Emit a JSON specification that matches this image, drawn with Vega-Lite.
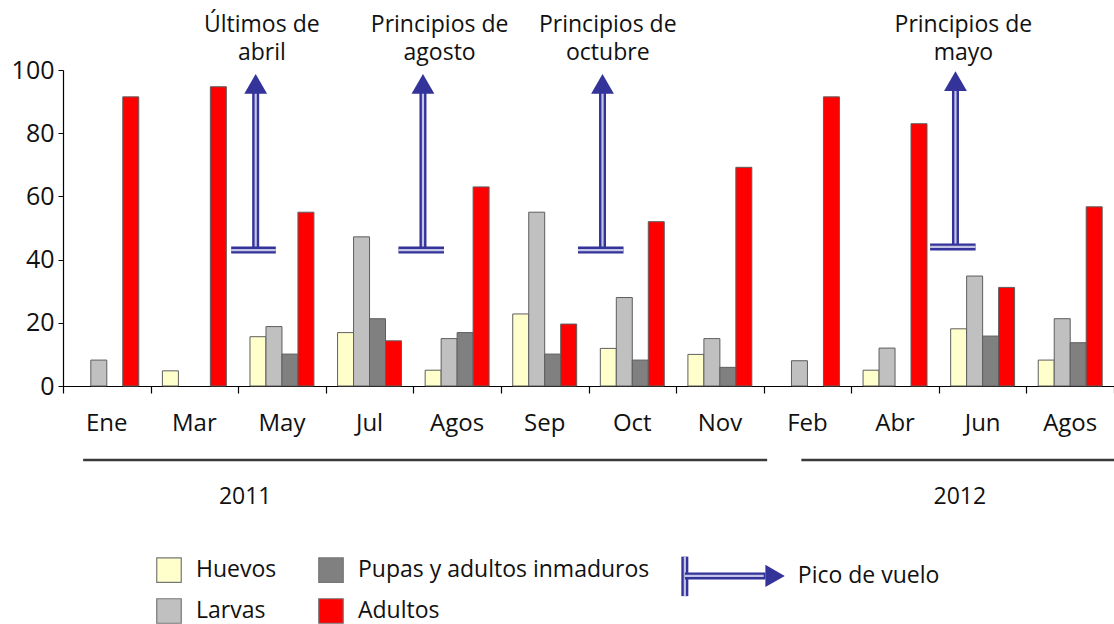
{
  "$schema": "https://vega.github.io/schema/vega-lite/v6.json",
  "width": 1051,
  "height": 316,
  "autosize": {"type": "none"},
  "padding": {"left": 63, "top": 70, "right": 0, "bottom": 238},
  "background": "white",
  "config": {"view": {"stroke": null}, "font": "Open Sans", "text": {"font": "Open Sans"}},
  "datasets": {
    "conteos": [
      {"grupo": "Ene|2011", "fase": "Larvas", "valor": 8.2},
      {"grupo": "Ene|2011", "fase": "Adultos", "valor": 91.5},
      {"grupo": "Mar|2011", "fase": "Huevos", "valor": 4.8},
      {"grupo": "Mar|2011", "fase": "Adultos", "valor": 94.7},
      {"grupo": "May|2011", "fase": "Huevos", "valor": 15.6},
      {"grupo": "May|2011", "fase": "Larvas", "valor": 18.8},
      {"grupo": "May|2011", "fase": "Pupas y adultos inmaduros", "valor": 10.1},
      {"grupo": "May|2011", "fase": "Adultos", "valor": 55},
      {"grupo": "Jul|2011", "fase": "Huevos", "valor": 16.9},
      {"grupo": "Jul|2011", "fase": "Larvas", "valor": 47.2},
      {"grupo": "Jul|2011", "fase": "Pupas y adultos inmaduros", "valor": 21.3},
      {"grupo": "Jul|2011", "fase": "Adultos", "valor": 14.3},
      {"grupo": "Agos|2011", "fase": "Huevos", "valor": 5},
      {"grupo": "Agos|2011", "fase": "Larvas", "valor": 15},
      {"grupo": "Agos|2011", "fase": "Pupas y adultos inmaduros", "valor": 16.9},
      {"grupo": "Agos|2011", "fase": "Adultos", "valor": 63},
      {"grupo": "Sep|2011", "fase": "Huevos", "valor": 22.8},
      {"grupo": "Sep|2011", "fase": "Larvas", "valor": 55},
      {"grupo": "Sep|2011", "fase": "Pupas y adultos inmaduros", "valor": 10.1},
      {"grupo": "Sep|2011", "fase": "Adultos", "valor": 19.6},
      {"grupo": "Oct|2011", "fase": "Huevos", "valor": 11.9},
      {"grupo": "Oct|2011", "fase": "Larvas", "valor": 28},
      {"grupo": "Oct|2011", "fase": "Pupas y adultos inmaduros", "valor": 8.2},
      {"grupo": "Oct|2011", "fase": "Adultos", "valor": 52},
      {"grupo": "Nov|2011", "fase": "Huevos", "valor": 10},
      {"grupo": "Nov|2011", "fase": "Larvas", "valor": 15},
      {"grupo": "Nov|2011", "fase": "Pupas y adultos inmaduros", "valor": 5.9},
      {"grupo": "Nov|2011", "fase": "Adultos", "valor": 69.2},
      {"grupo": "Feb|2012", "fase": "Larvas", "valor": 8},
      {"grupo": "Feb|2012", "fase": "Adultos", "valor": 91.5},
      {"grupo": "Abr|2012", "fase": "Huevos", "valor": 5},
      {"grupo": "Abr|2012", "fase": "Larvas", "valor": 12},
      {"grupo": "Abr|2012", "fase": "Adultos", "valor": 83},
      {"grupo": "Jun|2012", "fase": "Huevos", "valor": 18.1},
      {"grupo": "Jun|2012", "fase": "Larvas", "valor": 34.8},
      {"grupo": "Jun|2012", "fase": "Pupas y adultos inmaduros", "valor": 15.8},
      {"grupo": "Jun|2012", "fase": "Adultos", "valor": 31.2},
      {"grupo": "Agos|2012", "fase": "Huevos", "valor": 8.2},
      {"grupo": "Agos|2012", "fase": "Larvas", "valor": 21.3},
      {"grupo": "Agos|2012", "fase": "Pupas y adultos inmaduros", "valor": 13.7},
      {"grupo": "Agos|2012", "fase": "Adultos", "valor": 56.7}
    ],
    "picos": [
      {"pico": "Últimos de\nabril", "x": 2.2, "xa": 1.92, "xb": 2.43, "desde": 43, "hasta": 93, "punta": 95.6, "lx": 2.27},
      {"pico": "Principios de\nagosto", "x": 4.11, "xa": 3.83, "xb": 4.35, "desde": 43, "hasta": 93, "punta": 95.6, "lx": 4.3},
      {"pico": "Principios de\noctubre", "x": 6.16, "xa": 5.88, "xb": 6.4, "desde": 43, "hasta": 93, "punta": 95.6, "lx": 6.22},
      {"pico": "Principios de\nmayo", "x": 10.19, "xa": 9.9, "xb": 10.42, "desde": 44, "hasta": 94, "punta": 96.5, "lx": 10.28}
    ],
    "anios": [
      {"anio": "2011", "desde": 0.23, "hasta": 8.04, "lx": 2.08},
      {"anio": "2012", "desde": 8.43, "hasta": 12, "lx": 10.24}
    ],
    "cortes": [
      {"x": 0}, {"x": 1}, {"x": 2}, {"x": 3}, {"x": 4}, {"x": 5}, {"x": 6},
      {"x": 7}, {"x": 8}, {"x": 9}, {"x": 10}, {"x": 11}, {"x": 12}
    ],
    "uno": [{"clave": "Pico de vuelo"}]
  },
  "layer": [
    {
      "data": {"name": "conteos"},
      "mark": {"type": "bar", "stroke": "#5e5e5e", "strokeWidth": 1},
      "encoding": {
        "x": {
          "field": "grupo", "type": "nominal", "title": null,
          "sort": ["Ene|2011", "Mar|2011", "May|2011", "Jul|2011", "Agos|2011", "Sep|2011", "Oct|2011", "Nov|2011", "Feb|2012", "Abr|2012", "Jun|2012", "Agos|2012"],
          "scale": {"paddingInner": 0.27, "paddingOuter": 0.135},
          "axis": {
            "orient": "bottom", "ticks": false, "tickSize": 0,
            "labelPadding": 25, "labelAngle": 0, "labelFontSize": 24, "labelColor": "#111",
            "labelFont": "Open Sans", "labelExpr": "split(datum.label, '|')[0]",
            "domainColor": "#000", "domainWidth": 1.2
          }
        },
        "xOffset": {"field": "fase", "type": "nominal", "sort": ["Huevos", "Larvas", "Pupas y adultos inmaduros", "Adultos"]},
        "y": {
          "field": "valor", "type": "quantitative", "title": null,
          "scale": {"domain": [0, 100], "nice": false},
          "axis": {
            "values": [0, 20, 40, 60, 80, 100], "grid": false,
            "tickSize": 5, "tickColor": "#000", "domainColor": "#000", "domainWidth": 1.2,
            "labelFontSize": 25, "labelFont": "Open Sans", "labelColor": "#111", "labelPadding": 4
          }
        },
        "color": {
          "field": "fase", "type": "nominal",
          "scale": {"domain": ["Huevos", "Larvas", "Pupas y adultos inmaduros", "Adultos"], "range": ["#FFFFCC", "#C0C0C0", "#808080", "#FF0000"]},
          "legend": {
            "title": null, "orient": "none", "legendX": 93, "legendY": 487, "columns": 2,
            "symbolType": "square", "symbolSize": 600, "symbolStrokeColor": "#777", "symbolStrokeWidth": 1.2,
            "symbolOpacity": 1, "labelFontSize": 23, "labelFont": "Open Sans", "labelColor": "#111",
            "labelOffset": 14, "columnPadding": 39, "rowPadding": 11, "labelLimit": 400
          }
        }
      }
    },
    {
      "layer": [
        {
          "data": {"name": "cortes"},
          "mark": {"type": "point", "opacity": 0},
          "encoding": {
            "x": {
              "field": "x", "type": "quantitative", "title": null,
              "scale": {"domain": [0, 12], "nice": false, "zero": false},
              "axis": {"orient": "bottom", "values": [0, 1, 2, 3, 4, 5, 6, 7, 8, 9, 10, 11, 12], "labels": false, "domain": false, "grid": false, "ticks": true, "tickSize": 7, "tickColor": "#000", "tickWidth": 1.2}
            },
            "y": {"datum": 0, "type": "quantitative", "title": null, "scale": {"domain": [0, 100], "nice": false}}
          }
        },
        {
          "data": {"name": "picos"},
          "mark": {"type": "rule", "stroke": "#333399", "strokeWidth": 7},
          "encoding": {
            "x": {"field": "x", "type": "quantitative", "title": null},
            "y": {"field": "desde", "type": "quantitative", "title": null, "scale": {"domain": [0, 100], "nice": false}},
            "y2": {"field": "hasta"}
          }
        },
        {
          "data": {"name": "picos"},
          "mark": {"type": "rule", "stroke": "#c4c4e6", "strokeWidth": 2.2},
          "encoding": {
            "x": {"field": "x", "type": "quantitative", "title": null},
            "y": {"field": "desde", "type": "quantitative", "title": null, "scale": {"domain": [0, 100], "nice": false}},
            "y2": {"field": "hasta"}
          }
        },
        {
          "data": {"name": "picos"},
          "mark": {"type": "rule", "stroke": "#333399", "strokeWidth": 7},
          "encoding": {
            "x": {"field": "xa", "type": "quantitative", "title": null},
            "x2": {"field": "xb"},
            "y": {"field": "desde", "type": "quantitative", "title": null, "scale": {"domain": [0, 100], "nice": false}}
          }
        },
        {
          "data": {"name": "picos"},
          "mark": {"type": "rule", "stroke": "#c4c4e6", "strokeWidth": 2.2},
          "encoding": {
            "x": {"field": "xa", "type": "quantitative", "title": null},
            "x2": {"field": "xb"},
            "y": {"field": "desde", "type": "quantitative", "title": null, "scale": {"domain": [0, 100], "nice": false}}
          }
        },
        {
          "data": {"name": "picos"},
          "mark": {"type": "point", "shape": "triangle-up", "size": 520, "filled": true, "fill": "#333399", "opacity": 1, "strokeWidth": 0},
          "encoding": {
            "x": {"field": "x", "type": "quantitative", "title": null},
            "y": {"field": "punta", "type": "quantitative", "title": null, "scale": {"domain": [0, 100], "nice": false}}
          }
        },
        {
          "data": {"name": "picos"},
          "mark": {"type": "text", "lineBreak": "\n", "fontSize": 23, "lineHeight": 28, "align": "center", "baseline": "middle", "color": "#111", "font": "Open Sans"},
          "encoding": {
            "x": {"field": "lx", "type": "quantitative", "title": null},
            "y": {"datum": 114.2, "type": "quantitative", "title": null, "scale": {"domain": [0, 100], "nice": false}},
            "text": {"field": "pico"}
          }
        },
        {
          "data": {"name": "anios"},
          "mark": {"type": "rule", "stroke": "#3a3a3a", "strokeWidth": 2.5},
          "encoding": {
            "x": {"field": "desde", "type": "quantitative", "title": null},
            "x2": {"field": "hasta"},
            "y": {"datum": -23.4, "type": "quantitative", "title": null, "scale": {"domain": [0, 100], "nice": false}}
          }
        },
        {
          "data": {"name": "anios"},
          "mark": {"type": "text", "fontSize": 23, "align": "center", "baseline": "middle", "color": "#111", "font": "Open Sans"},
          "encoding": {
            "x": {"field": "lx", "type": "quantitative", "title": null},
            "y": {"datum": -35, "type": "quantitative", "title": null, "scale": {"domain": [0, 100], "nice": false}},
            "text": {"field": "anio"}
          }
        },
        {
          "data": {"name": "uno"},
          "mark": {"type": "rule", "stroke": "#333399", "strokeWidth": 7},
          "encoding": {
            "x": {"datum": 7.1, "type": "quantitative", "title": null},
            "y": {"datum": -54, "type": "quantitative", "title": null, "scale": {"domain": [0, 100], "nice": false}},
            "y2": {"datum": -66.5}
          }
        },
        {
          "data": {"name": "uno"},
          "mark": {"type": "rule", "stroke": "#c4c4e6", "strokeWidth": 2.2},
          "encoding": {
            "x": {"datum": 7.1, "type": "quantitative", "title": null},
            "y": {"datum": -54, "type": "quantitative", "title": null, "scale": {"domain": [0, 100], "nice": false}},
            "y2": {"datum": -66.5}
          }
        },
        {
          "data": {"name": "uno"},
          "mark": {"type": "rule", "stroke": "#333399", "strokeWidth": 7},
          "encoding": {
            "x": {"datum": 7.1, "type": "quantitative", "title": null},
            "x2": {"datum": 8.02},
            "y": {"datum": -60.1, "type": "quantitative", "title": null, "scale": {"domain": [0, 100], "nice": false}}
          }
        },
        {
          "data": {"name": "uno"},
          "mark": {"type": "rule", "stroke": "#c4c4e6", "strokeWidth": 2.2},
          "encoding": {
            "x": {"datum": 7.1, "type": "quantitative", "title": null},
            "x2": {"datum": 8.0},
            "y": {"datum": -60.1, "type": "quantitative", "title": null, "scale": {"domain": [0, 100], "nice": false}}
          }
        },
        {
          "data": {"name": "uno"},
          "mark": {"type": "point", "shape": "triangle-right", "size": 500, "filled": true, "fill": "#333399", "opacity": 1, "strokeWidth": 0},
          "encoding": {
            "x": {"datum": 8.13, "type": "quantitative", "title": null},
            "y": {"datum": -60.1, "type": "quantitative", "title": null, "scale": {"domain": [0, 100], "nice": false}}
          }
        },
        {
          "data": {"name": "uno"},
          "mark": {"type": "text", "fontSize": 23, "align": "left", "baseline": "middle", "color": "#111", "font": "Open Sans"},
          "encoding": {
            "x": {"datum": 8.39, "type": "quantitative", "title": null},
            "y": {"datum": -60.1, "type": "quantitative", "title": null, "scale": {"domain": [0, 100], "nice": false}},
            "text": {"field": "clave"}
          }
        }
      ]
    }
  ],
  "resolve": {"scale": {"x": "independent"}, "axis": {"x": "independent"}}
}
